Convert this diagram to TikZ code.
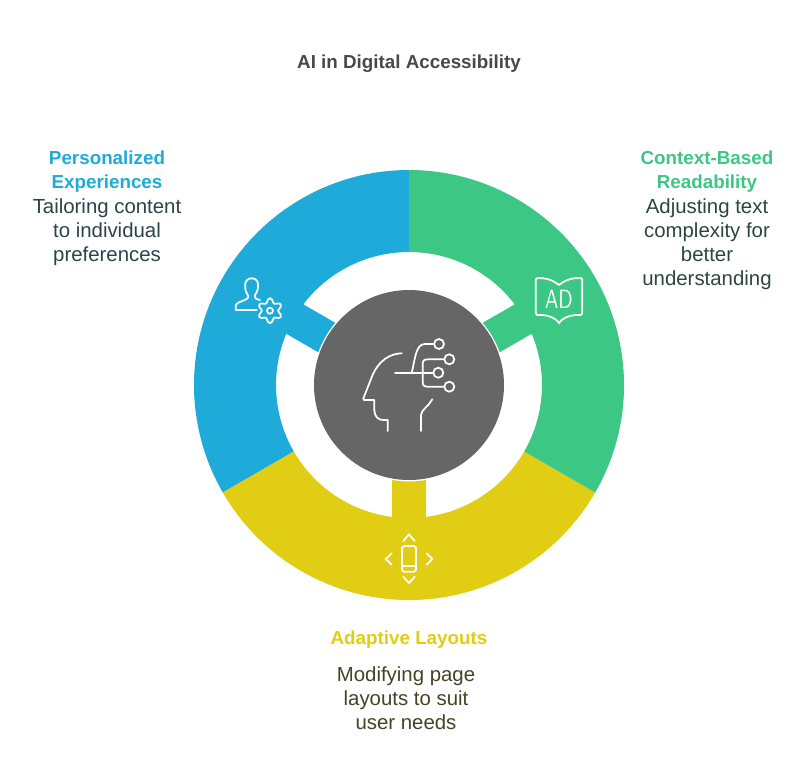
\documentclass[tikz,border=0pt]{standalone}
\usepackage{fontspec}
\setmainfont{Liberation Sans}
\usepackage{tikz}
\usetikzlibrary{positioning}
\definecolor{ringblue}{RGB}{30, 171, 218}
\definecolor{ringgreen}{RGB}{61, 199, 132}
\definecolor{ringyellow}{RGB}{224, 205, 20}
\definecolor{coregray}{RGB}{102, 102, 102}
\definecolor{titlegray}{RGB}{72, 72, 72}
\definecolor{bodyblue}{RGB}{45, 66, 74}
\definecolor{bodygreen}{RGB}{45, 70, 60}
\definecolor{bodyyellow}{RGB}{70, 66, 40}
\tikzset{
  headtext/.style={font=\fontsize{10.7}{13.66}\selectfont\bfseries, align=center, inner sep=0pt},
  bodytext/.style={font=\fontsize{11.6}{13.66}\selectfont, align=center, inner sep=0pt},
  iconline/.style={draw=white, line width=1pt, line cap=round, line join=round},
  icondot/.style={circle, draw=white, line width=1pt, inner sep=0pt, minimum size=0.2cm}
}
\begin{document}
\begin{tikzpicture}
  \useasboundingbox (-8.18, -7.94) rectangle (7.94, 7.7);

  % Title
  \node[headtext, text=titlegray] (title) at (0, 6.42) {AI in Digital Accessibility};

  % Ring segments with stems
  \foreach \s/\col in {90/ringblue, 210/ringyellow, 330/ringgreen} {
    \pgfmathsetmacro{\e}{\s+120}
    \pgfmathsetmacro{\m}{\s+60}
    \fill[\col] (\s:4.3) arc[start angle=\s, end angle=\e, radius=4.3]
      -- (\e:2.66) arc[start angle=\e, end angle=\m+7.34, radius=2.66]
      -- (\m+10.15:1.93) arc[start angle=\m+10.15, end angle=\m-10.15, radius=1.93]
      -- (\m-7.34:2.66) arc[start angle=\m-7.34, end angle=\s, radius=2.66] -- cycle;
  }

  % Center circle
  \node[circle, fill=coregray, inner sep=0pt, minimum size=3.8cm] (core) at (0, 0) {};

  % Head icon
  \draw[iconline] (-0.146, 0.634) .. controls (-0.5, 0.62) and (-0.68, 0.35) .. (-0.76, 0.12) -- (-0.914, -0.27)
    -- (-0.90, -0.30) -- (-0.694, -0.30) -- (-0.694, -0.5)
    .. controls (-0.694, -0.62) and (-0.62, -0.70) .. (-0.52, -0.70) -- (-0.426, -0.70) -- (-0.426, -0.92);
  \draw[iconline] (0.466, -0.286) .. controls (0.40, -0.42) and (0.24, -0.50) .. (0.24, -0.6) -- (0.24, -0.92);
  \node[icondot] (tip1) at (0.60, 0.82) {};
  \node[icondot] (tip2) at (0.806, 0.514) {};
  \node[icondot] (tip3) at (0.586, 0.246) {};
  \node[icondot] (tip4) at (0.806, -0.034) {};
  \draw[iconline] (-0.28, 0.246) -- (tip3.west);
  \draw[iconline] (0.054, 0.246) .. controls (0.12, 0.5) and (0.13, 0.82) .. (0.32, 0.82) -- (tip1.west);
  \draw[iconline] (0.274, 0.246) -- (0.274, 0.42) .. controls (0.274, 0.49) and (0.3, 0.514) .. (0.38, 0.514) -- (tip2.west);
  \draw[iconline] (0.274, 0.246) -- (0.274, 0.06) .. controls (0.274, -0.01) and (0.3, -0.034) .. (0.38, -0.034) -- (tip4.west);

  % Person and gear icon
  \draw[iconline] (-3.046, 1.5) -- (-3.466, 1.5) -- (-3.466, 1.58)
    .. controls (-3.466, 1.68) and (-3.2, 1.68) .. (-3.214, 1.78)
    .. controls (-3.3, 1.9) and (-3.32, 2.134) .. (-3.146, 2.134)
    .. controls (-2.97, 2.134) and (-3.0, 1.9) .. (-3.08, 1.8)
    .. controls (-3.09, 1.72) and (-3.03, 1.7) .. (-2.98, 1.7);
  \draw[iconline, shift={(-2.78, 1.486)}] plot[smooth cycle, samples=36, domain=0:350] (\x+90:{0.205+0.045*cos(6*\x)});
  \node[icondot, minimum size=0.12cm] (hub) at (-2.78, 1.486) {};

  % Book icon
  \draw[iconline] (3.0, 2.0) .. controls (2.85, 2.12) and (2.7, 2.15) .. (2.554, 2.134)
    -- (2.534, 2.1) -- (2.534, 1.44) -- (2.56, 1.40)
    .. controls (2.72, 1.41) and (2.85, 1.38) .. (2.96, 1.29) -- (3.0, 1.234) -- (3.04, 1.29)
    .. controls (3.15, 1.38) and (3.28, 1.41) .. (3.44, 1.40)
    -- (3.466, 1.44) -- (3.466, 2.1) -- (3.454, 2.134)
    .. controls (3.3, 2.15) and (3.15, 2.12) .. (3.0, 2.0);
  \node[text=white, font=\fontsize{15}{15}\sffamily, inner sep=0pt, xscale=0.78] (bookletters) at (3.0, 1.72) {AD};

  % Phone icon
  \draw[iconline, rounded corners=1pt] (-0.14, -3.22) rectangle (0.14, -3.734);
  \draw[iconline] (-0.14, -3.62) -- (0.14, -3.62);
  \draw[iconline] (-0.114, -3.12) -- (0, -2.986) -- (0.114, -3.12);
  \draw[iconline] (-0.114, -3.834) -- (0, -3.96) -- (0.114, -3.834);
  \draw[iconline] (-0.346, -3.366) -- (-0.466, -3.48) -- (-0.346, -3.594);
  \draw[iconline] (0.354, -3.366) -- (0.466, -3.48) -- (0.354, -3.594);

  % Labels
  \node[headtext, text=ringblue] (personal) at (-6.04, 4.26) {Personalized\\Experiences};
  \node[bodytext, text=bodyblue, below=0.1cm of personal] (personalbody) {Tailoring content\\to individual\\preferences};

  \node[headtext, text=ringgreen] (context) at (5.96, 4.26) {Context-Based\\Readability};
  \node[bodytext, text=bodygreen, below=0.1cm of context] (contextbody) {Adjusting text\\complexity for\\better\\understanding};

  \node[headtext, text=ringyellow] (adaptive) at (0, -5.1) {Adaptive Layouts};
  \node[bodytext, text=bodyyellow] (adaptivebody) at (-0.06, -6.26) {Modifying page\\layouts to suit\\user needs};
\end{tikzpicture}
\end{document}
